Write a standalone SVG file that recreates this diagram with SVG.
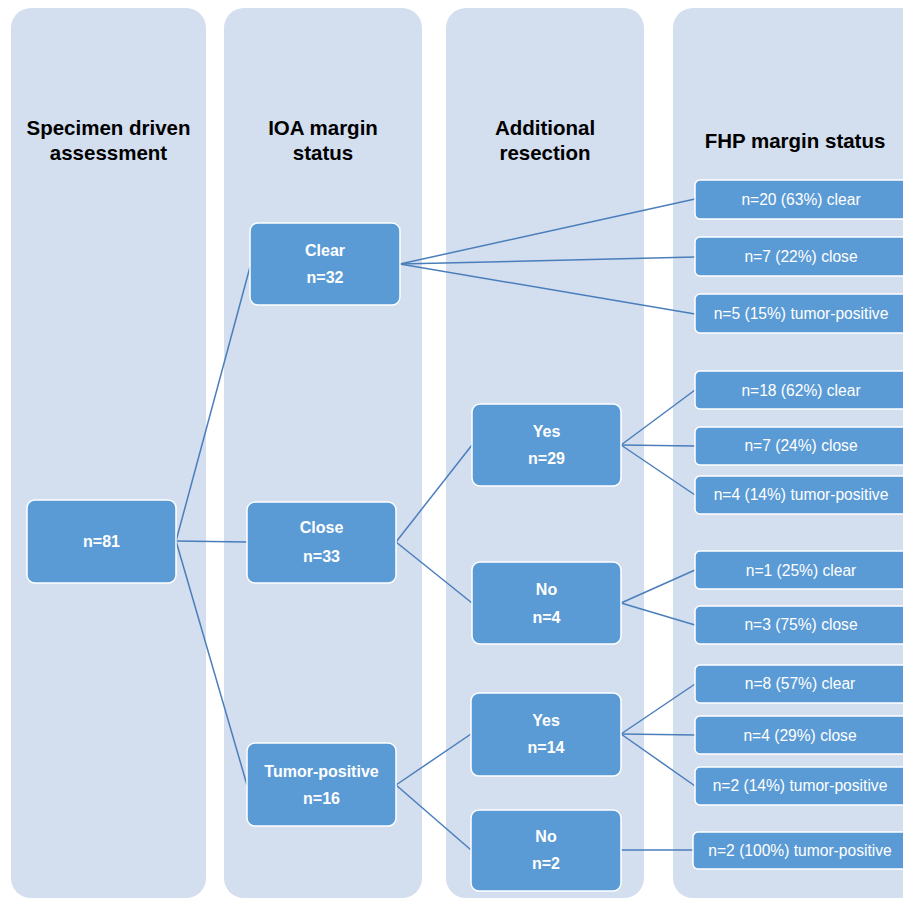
<svg xmlns="http://www.w3.org/2000/svg" width="903" height="899" viewBox="0 0 903 899">
<style>
.col{fill:#d3deef;}
.node{fill:#5b9bd5;stroke:#ffffff;stroke-width:1.5;}
.hdr{font-family:"Liberation Sans",Arial,sans-serif;font-weight:bold;font-size:20.5px;fill:#000000;text-anchor:middle;}
.lbl{font-family:"Liberation Sans",Arial,sans-serif;font-weight:bold;font-size:16px;fill:#ffffff;text-anchor:middle;}
.res{font-family:"Liberation Sans",Arial,sans-serif;font-size:15.6px;fill:#ffffff;text-anchor:middle;}
.edge{stroke:#4a7ebb;stroke-width:1.5;fill:none;}
</style>
<rect width="903" height="899" fill="#ffffff"/>
<g id="columns">
<rect class="col" x="11" y="8" width="195" height="890" rx="20"/>
<rect class="col" x="224" y="8" width="198" height="890" rx="20"/>
<rect class="col" x="446" y="8" width="198" height="890" rx="20"/>
<rect class="col" x="673" y="8" width="260" height="890" rx="20"/>
<text class="hdr" x="108.5" y="134.5">Specimen driven</text>
<text class="hdr" x="108.5" y="160">assessment</text>
<text class="hdr" x="323" y="134.5">IOA margin</text>
<text class="hdr" x="323" y="160">status</text>
<text class="hdr" x="545" y="134.5">Additional</text>
<text class="hdr" x="545" y="160">resection</text>
<text class="hdr" x="795" y="148">FHP margin status</text>
</g>
<g id="connectors">
<path class="edge" d="M176 541 L250 267"/>
<path class="edge" d="M176 541 L247 542"/>
<path class="edge" d="M176 541 L247 785"/>
<path class="edge" d="M400 264 L695 199"/>
<path class="edge" d="M400 264 L695 257"/>
<path class="edge" d="M400 264 L695 314"/>
<path class="edge" d="M396 542 L472 445"/>
<path class="edge" d="M396 542 L472 603"/>
<path class="edge" d="M621 445 L695 390"/>
<path class="edge" d="M621 445 L695 446"/>
<path class="edge" d="M621 445 L695 495"/>
<path class="edge" d="M621 603 L695 570"/>
<path class="edge" d="M621 603 L695 625"/>
<path class="edge" d="M396 785 L471 734"/>
<path class="edge" d="M396 785 L471 850"/>
<path class="edge" d="M621 734 L695 684"/>
<path class="edge" d="M621 734 L695 735"/>
<path class="edge" d="M621 734 L695 786"/>
<path class="edge" d="M621 850 L693 850"/>
</g>
<g id="n81">
<rect class="node" x="27" y="500" width="149" height="83" rx="8"/>
<text class="lbl" x="101.5" y="547">n=81</text>
</g>
<g id="clear32">
<rect class="node" x="250" y="223" width="150" height="82" rx="8"/>
<text class="lbl" x="325" y="256">Clear</text>
<text class="lbl" x="325" y="283">n=32</text>
</g>
<g id="close33">
<rect class="node" x="247" y="502" width="149" height="81" rx="8"/>
<text class="lbl" x="321.5" y="533">Close</text>
<text class="lbl" x="321.5" y="562">n=33</text>
</g>
<g id="tumor16">
<rect class="node" x="247" y="743" width="149" height="83" rx="8"/>
<text class="lbl" x="321.5" y="777">Tumor-positive</text>
<text class="lbl" x="321.5" y="804">n=16</text>
</g>
<g id="yes29">
<rect class="node" x="472" y="404" width="149" height="82" rx="8"/>
<text class="lbl" x="546.5" y="437">Yes</text>
<text class="lbl" x="546.5" y="464">n=29</text>
</g>
<g id="no4">
<rect class="node" x="472" y="562" width="149" height="82" rx="8"/>
<text class="lbl" x="546.5" y="595">No</text>
<text class="lbl" x="546.5" y="623">n=4</text>
</g>
<g id="yes14">
<rect class="node" x="471" y="693" width="150" height="83" rx="8"/>
<text class="lbl" x="546" y="726">Yes</text>
<text class="lbl" x="546" y="753">n=14</text>
</g>
<g id="no2">
<rect class="node" x="471" y="810" width="150" height="81" rx="8"/>
<text class="lbl" x="546" y="842">No</text>
<text class="lbl" x="546" y="869">n=2</text>
</g>
<g id="r1"><rect class="node" x="695" y="180" width="230" height="39" rx="5"/><text class="res" x="801" y="204.5">n=20 (63%) clear</text></g>
<g id="r2"><rect class="node" x="695" y="237" width="230" height="39" rx="5"/><text class="res" x="801" y="262">n=7 (22%) close</text></g>
<g id="r3"><rect class="node" x="695" y="294" width="230" height="39" rx="5"/><text class="res" x="801" y="318.5">n=5 (15%) tumor-positive</text></g>
<g id="r4"><rect class="node" x="695" y="371" width="230" height="38" rx="5"/><text class="res" x="801" y="395.5">n=18 (62%) clear</text></g>
<g id="r5"><rect class="node" x="695" y="427" width="230" height="38" rx="5"/><text class="res" x="801" y="450.5">n=7 (24%) close</text></g>
<g id="r6"><rect class="node" x="695" y="476" width="230" height="38" rx="5"/><text class="res" x="801" y="499.5">n=4 (14%) tumor-positive</text></g>
<g id="r7"><rect class="node" x="695" y="551" width="230" height="38" rx="5"/><text class="res" x="801" y="575.5">n=1 (25%) clear</text></g>
<g id="r8"><rect class="node" x="695" y="606" width="230" height="38" rx="5"/><text class="res" x="801" y="629.5">n=3 (75%) close</text></g>
<g id="r9"><rect class="node" x="695" y="665" width="230" height="38" rx="5"/><text class="res" x="800" y="688.5">n=8 (57%) clear</text></g>
<g id="r10"><rect class="node" x="695" y="716" width="230" height="38" rx="5"/><text class="res" x="800" y="740.5">n=4 (29%) close</text></g>
<g id="r11"><rect class="node" x="695" y="767" width="230" height="38" rx="5"/><text class="res" x="800" y="790.5">n=2 (14%) tumor-positive</text></g>
<g id="r12"><rect class="node" x="693" y="832" width="232" height="37" rx="5"/><text class="res" x="800" y="855.5">n=2 (100%) tumor-positive</text></g>
</svg>
